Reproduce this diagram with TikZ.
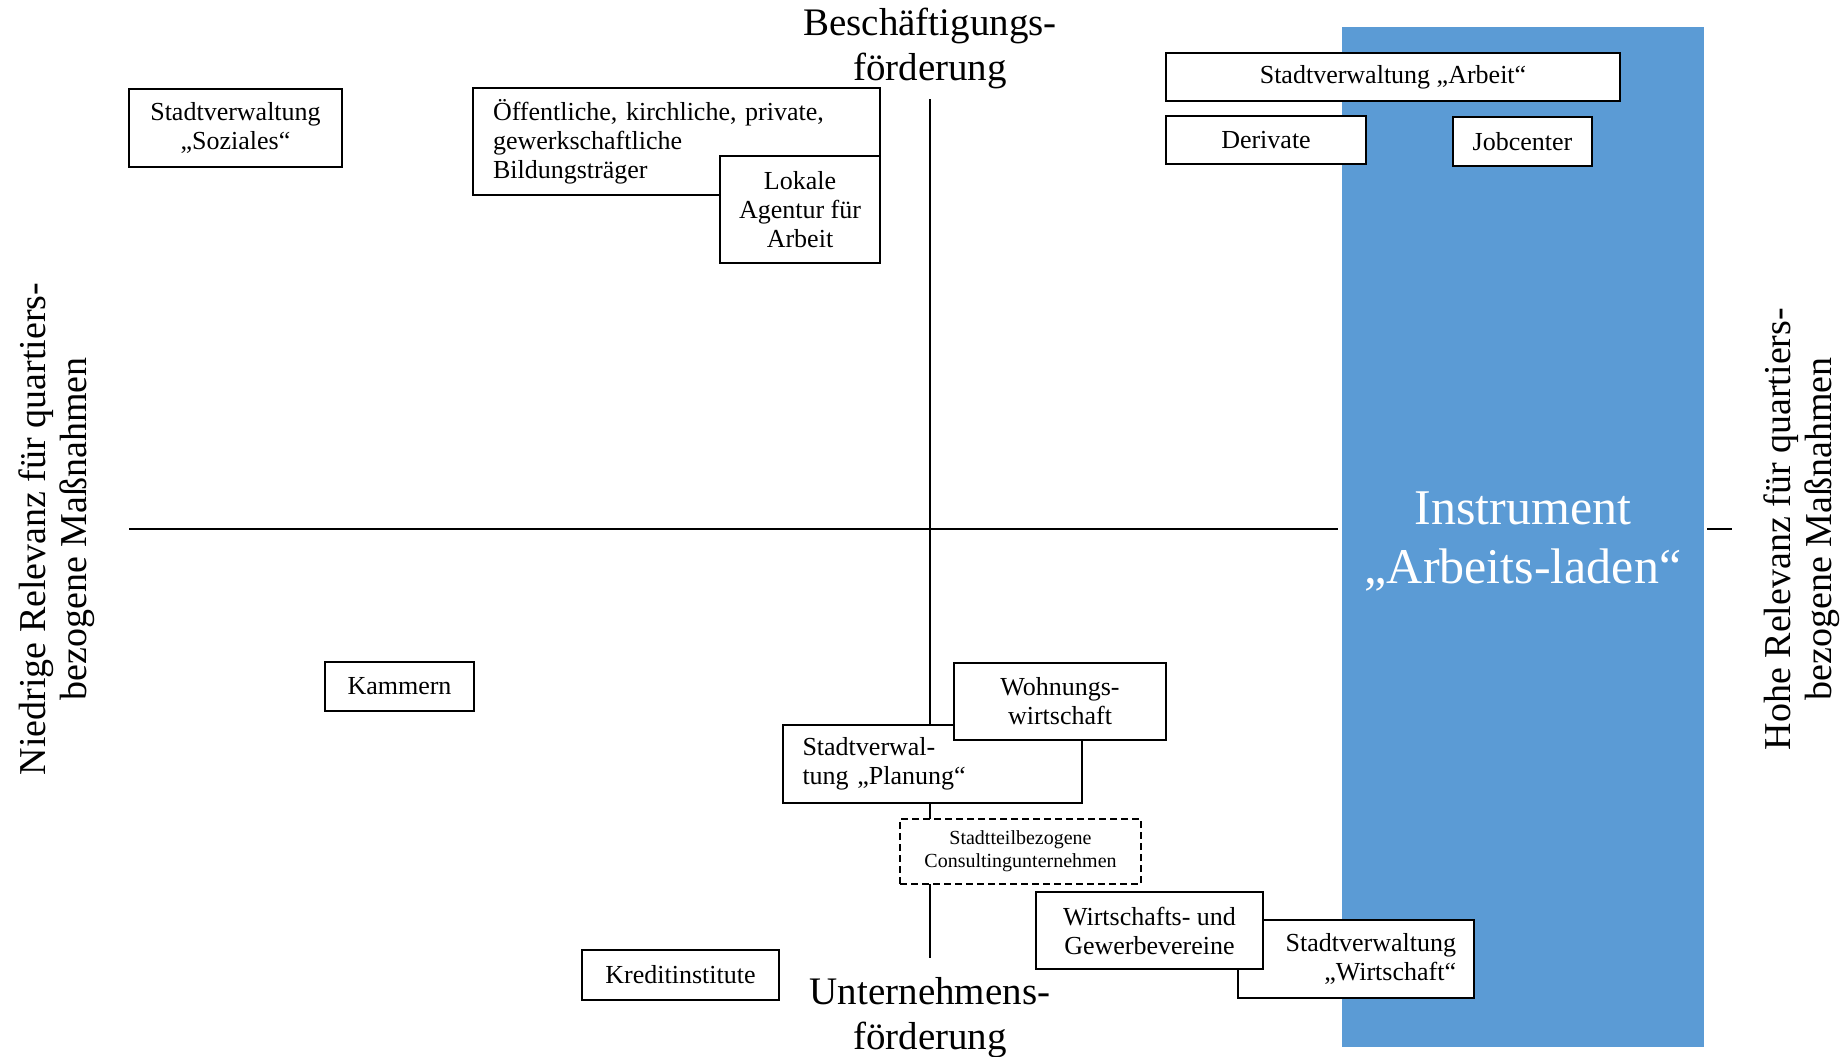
\documentclass[tikz,border=0pt]{standalone}
\usepackage{fontspec}
\setmainfont{Liberation Serif}
\definecolor{instblue}{HTML}{5B9BD5}
\tikzset{
  box/.style={draw, fill=white, line width=2pt, inner sep=0pt, align=center,
    font=\fontsize{26}{29}\selectfont},
  axis/.style={line width=2pt},
  axislabel/.style={align=center, font=\fontsize{39}{45}\selectfont},
  sidelabel/.style={align=center, rotate=90, font=\fontsize{38}{41}\selectfont},
}
\begin{document}
\begin{tikzpicture}[x=1pt,y=-1pt]
\useasboundingbox (0,0) rectangle (1844,1057);
% blue instrument column
\fill[instblue] (1342,27) rectangle (1704,1047);
\node[text=white, align=center, font=\fontsize{50}{59}\selectfont] (inst) at (1523,541) {Instrument\\„Arbeits-laden“};
% axes
\coordinate (vtop) at (930,99);
\coordinate (vbot) at (930,958);
\coordinate (hl1) at (129,529);
\coordinate (hl2) at (1338,529);
\coordinate (hr1) at (1707,529);
\coordinate (hr2) at (1732,529);
\draw[axis] (vtop) -- (vbot);
\draw[axis] (hl1) -- (hl2);
\draw[axis] (hr1) -- (hr2);
% axis labels
\node[axislabel] (besch) at (930,48) {Beschäftigungs-\\förderung};
\node[axislabel] (unter) at (930,1018) {Unternehmens-\\förderung};
\node[sidelabel] (niedrig) at (57,529) {Niedrige Relevanz für quartiers-\\bezogene Maßnahmen};
\node[sidelabel] (hoch) at (1802,529) {Hohe Relevanz für quartiers-\\bezogene Maßnahmen};
% boxes
\node[box, minimum width=213, minimum height=78] (soz) at (235.5,128) {Stadtverwaltung\\„Soziales“};
\node[box, minimum width=407, minimum height=107, text width=367, align=left, inner xsep=20pt] (oeff) at (676.5,141.5) {Öffentliche, kirchliche, private,\\gewerkschaftliche\\Bildungsträger};
\node[box, minimum width=160, minimum height=107] (lok) at (800,209.5) {Lokale\\Agentur für\\Arbeit};
\node[box, minimum width=454, minimum height=48] (arb) at (1393,77) {Stadtverwaltung „Arbeit“};
\node[box, minimum width=200, minimum height=48] (der) at (1266,140) {Derivate};
\node[box, minimum width=139, minimum height=49] (job) at (1522.5,141.5) {Jobcenter};
\node[box, minimum width=149, minimum height=49] (kam) at (399.5,686.5) {Kammern};
\node[box, minimum width=197, minimum height=50] (kred) at (680.5,975) {Kreditinstitute};
\node[box, minimum width=299, minimum height=78, text width=260, align=left, inner xsep=19pt] (plan) at (932.5,764) {Stadtverwal-\\tung „Planung“};
\node[box, minimum width=212, minimum height=77] (wohn) at (1060,701.5) {Wohnungs-\\wirtschaft};
\node[box, dashed, dash pattern=on 7pt off 4pt, minimum width=241, minimum height=65, font=\fontsize{20}{23}\selectfont] (cons) at (1020.5,851.5) {Stadtteilbezogene\\Consultingunternehmen};
\node[box, minimum width=236, minimum height=78, text width=200, align=right, inner xsep=18pt] (swi) at (1356,959) {Stadtverwaltung\\„Wirtschaft“};
\node[box, minimum width=227, minimum height=77] (wgv) at (1149.5,930.5) {Wirtschafts- und\\Gewerbevereine};
\end{tikzpicture}
\end{document}
